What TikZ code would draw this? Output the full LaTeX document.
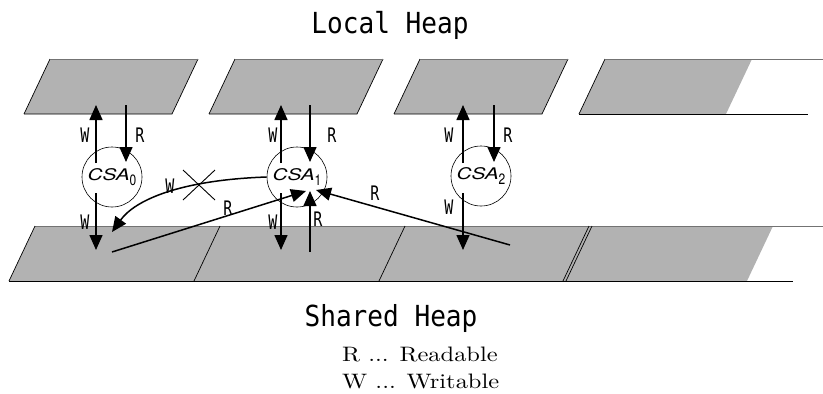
\documentclass[tikz,border=0pt]{standalone}
\usepackage{fontspec}
\usetikzlibrary{arrows.meta}
\newfontfamily\gothic[FakeStretch=0.9]{DejaVu Sans Mono}
\newfontfamily\gothicn[FakeStretch=0.75]{DejaVu Sans Mono}
\newfontfamily\csafont[FakeStretch=1.3]{TeX Gyre Heros}
\newfontfamily\csasub[FakeStretch=0.8]{TeX Gyre Heros}
\newfontfamily\legfont[FakeStretch=1.17]{lmroman10-regular.otf}
\newcommand\csatext[1]{{\csafont\itshape\fontsize{16}{16}\selectfont CSA}\raisebox{-5pt}{\csasub\fontsize{15}{15}\selectfont #1}}
\begin{document}
\begin{tikzpicture}[x=1pt,y=-1pt,
  heap/.style={fill=black!30, draw=none},
  edge/.style={line width=0.7pt, draw=black},
  topedge/.style={line width=0.7pt, draw=black!55},
  csa/.style={circle, draw, line width=0.6pt, minimum size=60pt, inner sep=0pt},
  rw/.style={-{Triangle[length=15pt,width=13pt]}, line width=1.5pt},
  lbl/.style={font=\gothicn\fontsize{20}{20}\selectfont, inner sep=0pt},
  title/.style={font=\gothic\fontsize{29}{29}\selectfont, inner sep=0pt, anchor=base},
  legend/.style={font=\legfont\fontsize{20.9}{20.9}\selectfont, inner sep=0pt, anchor=base west},
  cross/.style={line width=0.9pt}]
\useasboundingbox (0,0) rectangle (823,394);
% ---- local heap blocks ----
\foreach \x in {0,185,370} {
  \fill[heap] (50+\x,59) -- (198+\x,59) -- (172+\x,114) -- (24+\x,114) -- cycle;
  \draw[edge] (24+\x,114) -- (50+\x,59);
  \draw[edge] (198+\x,59) -- (172+\x,114) -- (24+\x,114);
  \draw[topedge] (50+\x,59) -- (198+\x,59);
}
\fill[heap] (605,59) -- (752,59) -- (726,114) -- (579,114) -- cycle;
\draw[edge] (579,114) -- (605,59);
\draw[topedge] (605,59) -- (823,59);
\draw[edge] (579,114) -- (808,114);
% ---- shared heap strip ----
\fill[heap] (35,226) -- (773,226) -- (747,281) -- (9,281) -- cycle;
\draw[topedge] (35,226) -- (823,226);
\draw[edge] (9,281) -- (793,281);
\draw[edge] (9,281) -- (35,226);
\draw[edge] (220,226) -- (194,281);
\draw[edge] (405,226) -- (379,281);
\draw[edge] (589,226) -- (563,281);
\draw[edge] (592,226) -- (566,281);
% ---- titles ----
\node[title] (lh) at (390,33) {Local Heap};
\node[title] (sh) at (391,326) {Shared Heap};
\node[legend] (lr) at (342,361) {R ... Readable};
\node[legend] (lw) at (342,388) {W ... Writable};
% ---- CSA nodes ----
\node[csa] (c0) at (112,177) {\csatext{0}};
\node[csa] (c1) at (297,177) {\csatext{1}};
\node[csa] (c2) at (481,176) {\csatext{2}};
% ---- coordinates ----
\coordinate (w0s) at (96,163);  \coordinate (w0t) at (96,105);
\coordinate (r0s) at (126,105); \coordinate (r0t) at (126,162);
\coordinate (d0s) at (96,193);  \coordinate (d0t) at (96,250);
\coordinate (w1s) at (281,163); \coordinate (w1t) at (281,105);
\coordinate (r1s) at (310,105); \coordinate (r1t) at (310,162);
\coordinate (d1s) at (281,193); \coordinate (d1t) at (281,250);
\coordinate (w2s) at (463,163); \coordinate (w2t) at (463,105);
\coordinate (r2s) at (494,105); \coordinate (r2t) at (494,162);
\coordinate (d2s) at (463,193); \coordinate (d2t) at (463,250);
\coordinate (up1s) at (310,252); \coordinate (up1t) at (310,191);
\coordinate (ls) at (112,252);   \coordinate (lt) at (306,191);
\coordinate (rs) at (510,245);   \coordinate (rt) at (316,190);
\coordinate (cw) at (112,232);
% ---- arrows ----
\draw[rw] (w0s) -- (w0t);
\draw[rw] (r0s) -- (r0t);
\draw[rw] (d0s) -- (d0t);
\draw[rw] (w1s) -- (w1t);
\draw[rw] (r1s) -- (r1t);
\draw[rw] (d1s) -- (d1t);
\draw[rw] (w2s) -- (w2t);
\draw[rw] (r2s) -- (r2t);
\draw[rw] (d2s) -- (d2t);
\draw[rw] (up1s) -- (up1t);
\draw[rw] (ls) -- (lt);
\draw[rw] (rs) -- (rt);
\draw[rw] (c1.west) .. controls (180,180) and (135,200) .. (cw);
% ---- cross ----
\coordinate (xa) at (183,170); \coordinate (xb) at (215,200);
\coordinate (xc) at (215,170); \coordinate (xd) at (183,200);
\draw[cross] (xa) -- (xb);
\draw[cross] (xc) -- (xd);
% ---- labels ----
\node[lbl] (lw0) at (85,135) {W};
\node[lbl] (lr0) at (140,135) {R};
\node[lbl] (ld0) at (85,222) {W};
\node[lbl] (lw1) at (273,135) {W};
\node[lbl] (lr1) at (332,135) {R};
\node[lbl] (ld1) at (273,222) {W};
\node[lbl] (lw2) at (449,135) {W};
\node[lbl] (lr2) at (508,135) {R};
\node[lbl] (ld2) at (449,207) {W};
\node[lbl] (lcw) at (170,186) {W};
\node[lbl] (lcr) at (228,208) {R};
\node[lbl] (lup) at (318,219) {R};
\node[lbl] (lrr) at (375,193) {R};
\end{tikzpicture}
\end{document}
